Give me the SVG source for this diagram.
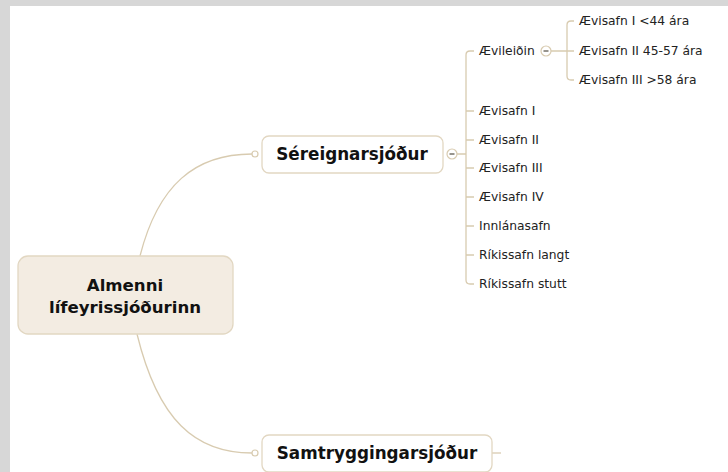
<svg xmlns="http://www.w3.org/2000/svg" width="728" height="472" viewBox="0 0 728 472">
<style>
.ln{fill:none;stroke:#d8cbb0;stroke-width:1.3}
.box{fill:#fff;stroke:#e2d7c2;stroke-width:1.3}
.root{fill:#f3ece2;stroke:#e2d7c2;stroke-width:1.3}
.b{font-family:"DejaVu Sans",Verdana,sans-serif;font-weight:bold;font-size:16.8px;fill:#111;text-anchor:middle}
.t{font-family:"DejaVu Sans",Verdana,sans-serif;font-size:12.3px;fill:#222}
.dot{fill:#fff;stroke:#d8cbb0;stroke-width:1.2}
.min{stroke:#5f5a50;stroke-width:1.3}
</style>
<rect x="0" y="0" width="728" height="472" fill="#fff"/>
<rect x="0" y="0" width="728" height="6" fill="#d7d7d7"/>
<rect x="0" y="0" width="10" height="472" fill="#d7d7d7"/>
<g id="connectors">
<path class="ln" d="M140,256 C158,185 195,154 252,154"/>
<path class="ln" d="M137,334 C158,420 195,453 252,453"/>
<path class="ln" d="M457,154 H466 M474,51 H470 Q466,51 466,55 V280 Q466,284 470,284 H474 M466,111 H474 M466,140 H474 M466,168 H474 M466,197 H474 M466,226 H474 M466,255 H474"/>
<path class="ln" d="M551,51 H567 M574,21 H571 Q567,21 567,25 V76 Q567,80 571,80 H574 M567,51 H574"/>
<path class="ln" d="M492,453 H501"/>
</g>
<g id="root">
<rect class="root" x="18" y="256" width="215" height="78" rx="10"/>
<text class="b" x="125" y="291" style="font-size:16.6px">Almenni</text>
<text class="b" x="125" y="313" style="font-size:16.6px">lífeyrissjóðurinn</text>
</g>
<g id="sereign">
<rect class="box" x="262" y="136" width="181" height="37" rx="7"/>
<text class="b" x="352" y="160">Séreignarsjóður</text>
<circle class="dot" cx="255" cy="154" r="3"/>
<circle class="dot" cx="452" cy="154" r="5"/>
<line class="min" x1="449.5" y1="154" x2="454.5" y2="154"/>
</g>
<g id="samtrygg">
<rect class="box" x="262" y="435" width="230" height="37" rx="7"/>
<text class="b" x="377" y="459">Samtryggingarsjóður</text>
<circle class="dot" cx="255" cy="453" r="3"/>
</g>
<g id="aevileidin">
<text class="t" x="479" y="55">Ævileiðin</text>
<circle class="dot" cx="546" cy="51" r="5"/>
<line class="min" x1="543.5" y1="51" x2="548.5" y2="51"/>
</g>
<g id="a1-44"><text class="t" x="579" y="25">Ævisafn I &lt;44 ára</text></g>
<g id="a2-45"><text class="t" x="579" y="55">Ævisafn II 45-57 ára</text></g>
<g id="a3-58"><text class="t" x="579" y="84">Ævisafn III &gt;58 ára</text></g>
<g id="a1"><text class="t" x="479" y="115">Ævisafn I</text></g>
<g id="a2"><text class="t" x="479" y="144">Ævisafn II</text></g>
<g id="a3"><text class="t" x="479" y="172">Ævisafn III</text></g>
<g id="a4"><text class="t" x="479" y="201">Ævisafn IV</text></g>
<g id="innlan"><text class="t" x="479" y="230">Innlánasafn</text></g>
<g id="rlangt"><text class="t" x="479" y="259">Ríkissafn langt</text></g>
<g id="rstutt"><text class="t" x="479" y="288">Ríkissafn stutt</text></g>
</svg>
